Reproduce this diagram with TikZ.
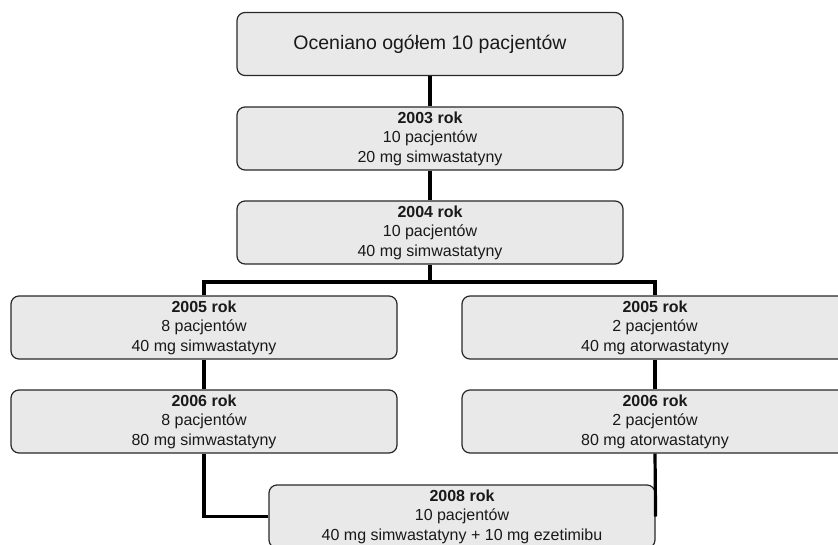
\documentclass[tikz,border=0pt]{standalone}
\usepackage{fontspec}
\setmainfont{Liberation Sans}
\definecolor{boxfill}{RGB}{232,233,232}
\definecolor{boxline}{RGB}{40,40,40}
\begin{document}
\begin{tikzpicture}[x=1pt,y=-1pt,
  stagebox/.style={rectangle, rounded corners=8pt, draw=boxline, line width=1.2pt,
    fill=boxfill, minimum width=386pt, minimum height=63pt, inner sep=0pt,
    align=center, font=\fontsize{16}{19.5}\selectfont, text=black!90},
  conn/.style={line width=3.2pt, draw=black}]
\clip (0,0) rectangle (838,544);
\fill[white] (0,0) rectangle (838,544);
\node[stagebox, font=\fontsize{19.5}{23}\selectfont] (top) at (430,44) {Oceniano ogółem 10 pacjentów};
\node[stagebox] (a2003) at (430,138.5) {\textbf{2003 rok}\\10 pacjentów\\20 mg simwastatyny};
\node[stagebox] (a2004) at (430,232.5) {\textbf{2004 rok}\\10 pacjentów\\40 mg simwastatyny};
\node[stagebox] (l2005) at (204,327.5) {\textbf{2005 rok}\\8 pacjentów\\40 mg simwastatyny};
\node[stagebox] (l2006) at (204,421.5) {\textbf{2006 rok}\\8 pacjentów\\80 mg simwastatyny};
\node[stagebox] (r2005) at (655,327.5) {\textbf{2005 rok}\\2 pacjentów\\40 mg atorwastatyny};
\node[stagebox] (r2006) at (655,421.5) {\textbf{2006 rok}\\2 pacjentów\\80 mg atorwastatyny};
\node[stagebox] (a2008) at (462,516.5) {\textbf{2008 rok}\\10 pacjentów\\40 mg simwastatyny + 10 mg ezetimibu};
\coordinate (split) at (430,282);
\draw[conn] (top.south) -- (a2003.north);
\draw[conn] (a2003.south) -- (a2004.north);
\draw[conn] (a2004.south) -- (split);
\draw[conn] (l2005.north) |- (split) -| (r2005.north);
\draw[conn] (l2005.south) -- (l2006.north);
\draw[conn] (r2005.south) -- (r2006.north);
\draw[conn] (l2006.south) |- (a2008.west);
\draw[conn] (r2006.south) -- (a2008.east);
\end{tikzpicture}
\end{document}
